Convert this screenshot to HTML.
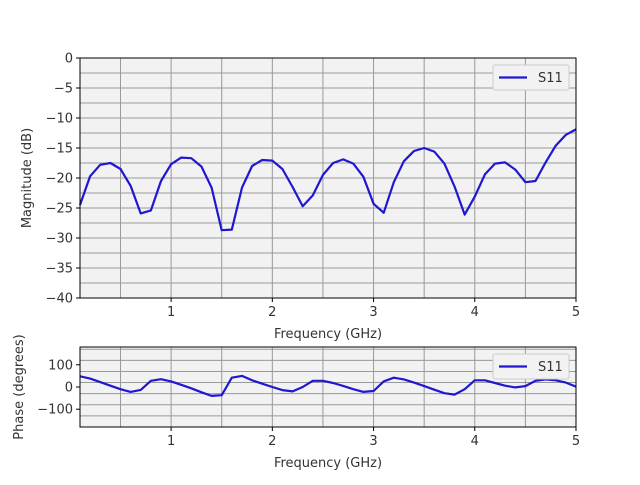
<!DOCTYPE html>
<html><head><meta charset="utf-8">
<style>
body{margin:0;background:#fff;font-family:"Liberation Sans","DejaVu Sans",sans-serif;}
svg text{font-family:"DejaVu Sans","Liberation Sans",sans-serif;font-size:13px;fill:#333;}
</style></head>
<body>
<svg id="chart" width="640" height="480" viewBox="0 0 640 480" xmlns="http://www.w3.org/2000/svg"></svg>
<script>
const freqs = [];
for (let i = 1; i <= 50; i++) freqs.push(i / 10);
const magnitude = [-24.5,-19.7,-17.8,-17.5,-18.5,-21.3,-25.9,-25.4,-20.5,-17.7,
 -16.6,-16.7,-18.1,-21.6,-28.7,-28.6,-21.6,-18,-17,-17.1,
 -18.5,-21.5,-24.7,-22.9,-19.5,-17.5,-16.9,-17.6,-19.8,-24.3,
 -25.8,-20.7,-17.2,-15.5,-15,-15.6,-17.6,-21.4,-26.1,-23.1,
 -19.4,-17.6,-17.4,-18.6,-20.7,-20.5,-17.4,-14.6,-12.8,-11.9];
const phase = [48,38,22,6,-10,-22,-13,28,35,25,
 10,-6,-24,-40,-37,42,50,30,15,0,
 -14,-20,0,28,28,18,5,-10,-22,-18,
 25,42,34,20,4,-12,-28,-34,-10,30,
 30,18,6,-2,4,28,34,30,20,2];
const xTicks = [1,2,3,4,5];
const magTicks = [0,-5,-10,-15,-20,-25,-30,-35,-40];
const phaseTicks = [100,0,-100];

const NS = "http://www.w3.org/2000/svg";
const svg = document.getElementById('chart');
function mk(tag, attrs, parent){const e=document.createElementNS(NS,tag);for(const k in attrs)e.setAttribute(k,attrs[k]);(parent||svg).appendChild(e);return e;}

function panel(name, top, bottom, ymin, ymax, yTicks, yMinorStep, values, yTitle){
  const L=80,R=576;
  const g = mk('g',{});
  
  
  const xs = f => L + (f-0.1)/(5-0.1)*(R-L);
  const ys = v => top + (ymax-v)/(ymax-ymin)*(bottom-top);
  mk('rect',{x:L,y:top,width:R-L,height:bottom-top,fill:'#f2f2f2'},g);
  for(let f=0.5; f<5; f+=0.5){mk('line',{x1:xs(f),x2:xs(f),y1:top,y2:bottom,stroke:'#999','stroke-width':1},g);}
  for(let v=ymin+yMinorStep; v<ymax-1e-9; v+=yMinorStep){mk('line',{x1:L,x2:R,y1:ys(v),y2:ys(v),stroke:'#999','stroke-width':1},g);}
  const d = values.map((v,i)=>(i?'L':'M')+xs(freqs[i]).toFixed(1)+' '+ys(v).toFixed(1)).join(' ');
  const line = mk('path',{d:d,fill:'none',stroke:'#1f17d1','stroke-width':2.2,'stroke-linejoin':'round'},g);
  
  
  mk('rect',{x:L,y:top,width:R-L,height:bottom-top,fill:'none',stroke:'#000','stroke-width':1},g);
  xTicks.forEach(t=>{const x=xs(t);mk('line',{x1:x,x2:x,y1:bottom,y2:bottom+4,stroke:'#000'},g);
    const tx=mk('text',{x:x,y:bottom+18,'text-anchor':'middle'},g);tx.textContent=t;});
  yTicks.forEach(t=>{const y=ys(t);mk('line',{x1:L-4,x2:L,y1:y,y2:y,stroke:'#000'},g);
    const tx=mk('text',{x:L-7,y:y+4.5,'text-anchor':'end'},g);tx.textContent=String(t).replace('-','\u2212');});
  const xt=mk('text',{x:(L+R)/2,y:bottom+40,'text-anchor':'middle'},g);xt.textContent='Frequency (GHz)';
  
  
  const cy=(top+bottom)/2, cx = name==='magnitude-panel'?31:23;
  const yt=mk('text',{x:cx,y:cy,'text-anchor':'middle',transform:`rotate(-90 ${cx} ${cy})`},g);yt.textContent=yTitle;
  
  
  const lg=mk('g',{},g);
  
  
  mk('rect',{x:493,y:top+7,width:76,height:25,rx:2,fill:'#f2f2f2',stroke:'#ccc'},lg);
  mk('line',{x1:499,x2:527,y1:top+19.5,y2:top+19.5,stroke:'#1f17d1','stroke-width':2.2},lg);
  const lt=mk('text',{x:538,y:top+24},lg);lt.textContent='S11';
}
panel('magnitude-panel',58,298,-40,0,magTicks,2.5,magnitude,'Magnitude (dB)');
panel('phase-panel',347,427,-180,180,phaseTicks,50,phase,'Phase (degrees)');
</script>
</body></html>
